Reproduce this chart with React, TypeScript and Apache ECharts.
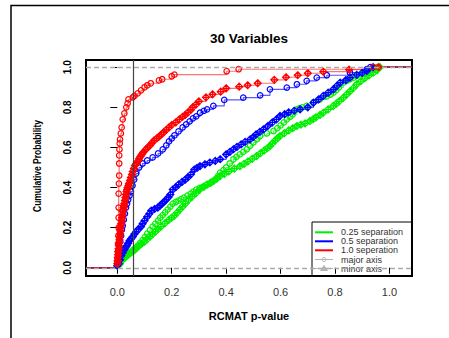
import React, { useEffect, useRef } from "react";
import * as echarts from "echarts";

// Axis ticks and limits
const xTicks = [0, 0.2, 0.4, 0.6, 0.8, 1.0];
const yTicks = [0, 0.2, 0.4, 0.6, 0.8, 1.0];
const xMin = -0.115;
const xMax = 1.083;
const yMin = -0.041;
const yMax = 1.036;
const cutoff = 0.058;

// 1.0 separation – major axis (circles)
const redMajorP = [0.000, 0.001, 0.002, 0.003, 0.004, 0.005, 0.005, 0.005, 0.005, 0.006, 0.007, 0.007, 0.007, 0.008, 0.009, 0.010, 0.013, 0.016, 0.020, 0.026, 0.033, 0.038, 0.041, 0.057, 0.063, 0.075, 0.087, 0.100, 0.110, 0.123, 0.153, 0.165, 0.200, 0.210, 0.402, 0.446, 0.940];
const redMajorF = [0.02, 0.05, 0.08, 0.12, 0.16, 0.20, 0.25, 0.30, 0.37, 0.42, 0.46, 0.52, 0.56, 0.59, 0.62, 0.64, 0.67, 0.70, 0.74, 0.77, 0.80, 0.82, 0.84, 0.85, 0.857, 0.87, 0.885, 0.90, 0.91, 0.92, 0.934, 0.94, 0.955, 0.963, 0.98, 0.99, 1.0];

// 1.0 separation – minor axis (diamond-plus)
const redMinorP = [0.000, 0.001, 0.002, 0.003, 0.004, 0.005, 0.006, 0.007, 0.008, 0.009, 0.010, 0.011, 0.012, 0.013, 0.014, 0.016, 0.017, 0.019, 0.020, 0.022, 0.023, 0.025, 0.026, 0.028, 0.030, 0.032, 0.034, 0.036, 0.038, 0.041, 0.043, 0.047, 0.050, 0.054, 0.057, 0.061, 0.065, 0.070, 0.075, 0.080, 0.085, 0.090, 0.095, 0.105, 0.112, 0.120, 0.128, 0.135, 0.145, 0.154, 0.162, 0.170, 0.180, 0.190, 0.200, 0.215, 0.228, 0.240, 0.250, 0.260, 0.270, 0.277, 0.290, 0.300, 0.326, 0.350, 0.380, 0.400, 0.448, 0.479, 0.516, 0.577, 0.620, 0.663, 0.700, 0.757, 0.852, 0.960];
const redMinorF = [0.02, 0.035, 0.05, 0.065, 0.08, 0.095, 0.11, 0.125, 0.14, 0.155, 0.17, 0.185, 0.20, 0.21, 0.22, 0.235, 0.25, 0.265, 0.28, 0.29, 0.30, 0.31, 0.32, 0.335, 0.35, 0.365, 0.38, 0.39, 0.40, 0.41, 0.42, 0.435, 0.45, 0.465, 0.48, 0.495, 0.51, 0.52, 0.53, 0.543, 0.555, 0.565, 0.575, 0.59, 0.60, 0.61, 0.623, 0.635, 0.645, 0.655, 0.665, 0.675, 0.688, 0.70, 0.712, 0.725, 0.74, 0.753, 0.762, 0.775, 0.787, 0.80, 0.815, 0.83, 0.85, 0.865, 0.878, 0.895, 0.903, 0.91, 0.92, 0.937, 0.95, 0.96, 0.97, 0.978, 0.988, 1.0];

// 0.5 separation – major axis
const blueMajorP = [0.000, 0.003, 0.006, 0.008, 0.011, 0.014, 0.017, 0.020, 0.024, 0.028, 0.032, 0.036, 0.040, 0.045, 0.050, 0.056, 0.062, 0.069, 0.080, 0.093, 0.110, 0.130, 0.150, 0.167, 0.180, 0.190, 0.200, 0.210, 0.225, 0.240, 0.253, 0.266, 0.278, 0.290, 0.304, 0.318, 0.330, 0.353, 0.393, 0.463, 0.525, 0.561, 0.623, 0.660, 0.696, 0.733, 0.770, 0.855, 0.917, 0.930];
const blueMajorF = [0.02, 0.04, 0.07, 0.10, 0.13, 0.16, 0.19, 0.21, 0.24, 0.27, 0.30, 0.32, 0.34, 0.36, 0.38, 0.41, 0.44, 0.47, 0.50, 0.52, 0.535, 0.55, 0.57, 0.59, 0.61, 0.63, 0.645, 0.66, 0.68, 0.70, 0.715, 0.73, 0.745, 0.755, 0.773, 0.782, 0.79, 0.807, 0.837, 0.848, 0.86, 0.89, 0.898, 0.915, 0.932, 0.948, 0.96, 0.973, 0.99, 1.0];

// 0.5 separation – minor axis
const blueMinorP = [0.000, 0.005, 0.010, 0.015, 0.020, 0.026, 0.030, 0.035, 0.040, 0.045, 0.051, 0.057, 0.063, 0.070, 0.078, 0.087, 0.093, 0.100, 0.110, 0.118, 0.125, 0.137, 0.149, 0.157, 0.165, 0.173, 0.180, 0.188, 0.195, 0.204, 0.215, 0.225, 0.238, 0.250, 0.260, 0.270, 0.283, 0.293, 0.304, 0.322, 0.340, 0.360, 0.378, 0.400, 0.414, 0.427, 0.440, 0.455, 0.470, 0.488, 0.500, 0.510, 0.524, 0.537, 0.553, 0.570, 0.585, 0.598, 0.615, 0.630, 0.650, 0.672, 0.700, 0.721, 0.740, 0.757, 0.775, 0.794, 0.807, 0.819, 0.840, 0.855, 0.880, 0.900, 0.917, 0.940];
const blueMinorF = [0.01, 0.02, 0.04, 0.06, 0.075, 0.09, 0.10, 0.11, 0.122, 0.135, 0.145, 0.155, 0.168, 0.18, 0.193, 0.205, 0.22, 0.235, 0.255, 0.27, 0.285, 0.293, 0.30, 0.31, 0.32, 0.33, 0.34, 0.352, 0.365, 0.39, 0.402, 0.415, 0.428, 0.44, 0.452, 0.465, 0.49, 0.498, 0.507, 0.516, 0.525, 0.533, 0.541, 0.565, 0.578, 0.591, 0.603, 0.615, 0.628, 0.64, 0.652, 0.665, 0.678, 0.69, 0.707, 0.725, 0.74, 0.757, 0.766, 0.775, 0.783, 0.79, 0.80, 0.823, 0.84, 0.857, 0.873, 0.89, 0.907, 0.923, 0.936, 0.948, 0.962, 0.972, 0.982, 1.0];

// 0.25 separation – major axis
const greenMajorP = [0.000, 0.008, 0.015, 0.025, 0.035, 0.045, 0.057, 0.066, 0.075, 0.084, 0.093, 0.102, 0.110, 0.120, 0.130, 0.140, 0.150, 0.158, 0.167, 0.176, 0.185, 0.195, 0.204, 0.215, 0.225, 0.235, 0.245, 0.258, 0.270, 0.280, 0.290, 0.303, 0.315, 0.328, 0.340, 0.350, 0.360, 0.370, 0.378, 0.390, 0.400, 0.413, 0.427, 0.438, 0.450, 0.463, 0.476, 0.488, 0.500, 0.513, 0.525, 0.550, 0.574, 0.588, 0.600, 0.612, 0.623, 0.635, 0.645, 0.660, 0.670, 0.680, 0.696, 0.720, 0.745, 0.770, 0.784, 0.794, 0.805, 0.815, 0.831, 0.843, 0.855, 0.868, 0.880, 0.900, 0.920, 0.940, 0.954];
const greenMajorF = [0.01, 0.02, 0.035, 0.05, 0.06, 0.075, 0.088, 0.098, 0.11, 0.124, 0.138, 0.154, 0.17, 0.188, 0.205, 0.22, 0.235, 0.25, 0.263, 0.276, 0.29, 0.305, 0.32, 0.328, 0.335, 0.342, 0.35, 0.36, 0.37, 0.38, 0.39, 0.398, 0.405, 0.413, 0.42, 0.43, 0.44, 0.457, 0.474, 0.487, 0.50, 0.52, 0.541, 0.553, 0.565, 0.578, 0.591, 0.608, 0.625, 0.641, 0.657, 0.67, 0.682, 0.696, 0.71, 0.725, 0.74, 0.753, 0.765, 0.79, 0.796, 0.80, 0.807, 0.825, 0.84, 0.855, 0.864, 0.873, 0.886, 0.90, 0.923, 0.932, 0.94, 0.948, 0.957, 0.966, 0.975, 0.988, 1.0];

// 0.25 separation – minor axis
const greenMinorP = [0.000, 0.010, 0.020, 0.028, 0.035, 0.043, 0.050, 0.058, 0.065, 0.072, 0.080, 0.090, 0.100, 0.110, 0.120, 0.130, 0.140, 0.150, 0.160, 0.175, 0.190, 0.200, 0.210, 0.220, 0.230, 0.240, 0.250, 0.262, 0.275, 0.290, 0.304, 0.318, 0.330, 0.343, 0.355, 0.367, 0.378, 0.394, 0.410, 0.430, 0.451, 0.466, 0.480, 0.496, 0.512, 0.526, 0.540, 0.551, 0.561, 0.570, 0.580, 0.589, 0.598, 0.614, 0.630, 0.645, 0.660, 0.675, 0.690, 0.708, 0.720, 0.730, 0.745, 0.757, 0.775, 0.794, 0.805, 0.815, 0.831, 0.843, 0.855, 0.868, 0.880, 0.895, 0.910, 0.925, 0.941, 0.955, 0.965];
const greenMinorF = [0.01, 0.02, 0.04, 0.05, 0.06, 0.068, 0.075, 0.083, 0.09, 0.10, 0.11, 0.12, 0.13, 0.143, 0.155, 0.168, 0.18, 0.193, 0.205, 0.222, 0.24, 0.25, 0.26, 0.275, 0.29, 0.305, 0.32, 0.338, 0.355, 0.373, 0.391, 0.403, 0.415, 0.425, 0.435, 0.446, 0.457, 0.468, 0.48, 0.494, 0.507, 0.518, 0.53, 0.543, 0.557, 0.571, 0.585, 0.596, 0.607, 0.621, 0.635, 0.646, 0.657, 0.671, 0.685, 0.696, 0.707, 0.714, 0.72, 0.732, 0.741, 0.75, 0.762, 0.773, 0.79, 0.807, 0.818, 0.83, 0.848, 0.864, 0.88, 0.897, 0.915, 0.93, 0.945, 0.959, 0.973, 0.986, 1.0];

const legendLabels = ["0.25 separation", "0.5 separation", "1.0 seperation", "major axis", "minor axis"];

const RED = "#ff0000";
const BLUE = "#0000ff";
const GREEN = "#00f000";
const GREY = "#b4b4b4";
const FONT = "Liberation Sans, Arial, sans-serif";

const MINOR_SYMBOL = "path://M5,0 L10,5 L5,10 L0,5 Z M0,5 L10,5 M5,0 L5,10";

type Def = { name: string; p: number[]; f: number[]; color: string; lineColor: string; minor: boolean };

const defs: Def[] = [
  { name: "green major", p: greenMajorP, f: greenMajorF, color: GREEN, lineColor: "rgba(0,230,0,0.6)", minor: false },
  { name: "green minor", p: greenMinorP, f: greenMinorF, color: GREEN, lineColor: "rgba(0,230,0,0.6)", minor: true },
  { name: "blue major", p: blueMajorP, f: blueMajorF, color: BLUE, lineColor: "rgba(0,0,255,0.65)", minor: false },
  { name: "blue minor", p: blueMinorP, f: blueMinorF, color: BLUE, lineColor: "rgba(0,0,255,0.65)", minor: true },
  { name: "red minor", p: redMinorP, f: redMinorF, color: RED, lineColor: "rgba(255,0,0,0.55)", minor: true },
  { name: "red major", p: redMajorP, f: redMajorF, color: RED, lineColor: "rgba(255,0,0,0.55)", minor: false },
];

function buildSeries(): any[] {
  const out: any[] = defs.map((d) => {
    const data: any[] = [{ value: [xMin, 0], symbol: "none" }];
    d.p.forEach((x, i) => data.push({ value: [x, d.f[i]] }));
    data.push({ value: [xMax, 1], symbol: "none" });
    return {
      name: d.name,
      type: "line",
      step: "end",
      data,
      symbol: d.minor ? MINOR_SYMBOL : "circle",
      symbolSize: d.minor ? 7 : 5.5,
      itemStyle: { color: "rgba(0,0,0,0)", borderColor: d.color, borderWidth: 1.2 },
      lineStyle: { color: d.lineColor, width: 1.2 },
      clip: true,
      z: 3,
    };
  });
  out.unshift({
    name: "ref",
    type: "line",
    data: [],
    markLine: {
      silent: true,
      symbol: "none",
      label: { show: false },
      data: [
        { yAxis: 0, lineStyle: { color: "#aaaaaa", type: [5, 3], width: 1.3 } },
        { yAxis: 1, lineStyle: { color: "#aaaaaa", type: [5, 3], width: 1.3 } },
        { xAxis: cutoff, lineStyle: { color: "#444444", type: "solid", width: 1.2 } },
      ],
    },
    z: 2,
  });
  return out;
}

function legendGraphic(): any[] {
  const colors = [GREEN, BLUE, RED, GREY, GREY];
  const x0 = 312, y0 = 222, w = 100, h = 54;
  const rowY = [232.3, 241.3, 250.3, 259.5, 268.5];
  const children: any[] = [
    { type: "rect", shape: { x: x0, y: y0, width: w, height: h }, style: { fill: "rgba(0,0,0,0)", stroke: "#000", lineWidth: 1 } },
  ];
  legendLabels.forEach((lab, i) => {
    children.push({
      type: "line",
      shape: { x1: 315, y1: rowY[i], x2: 333, y2: rowY[i] },
      style: { stroke: colors[i], lineWidth: i < 3 ? 2 : 1 },
    });
    if (i === 3) {
      children.push({ type: "circle", shape: { cx: 324, cy: rowY[i], r: 2 }, style: { fill: "rgba(0,0,0,0)", stroke: GREY, lineWidth: 1 } });
    }
    if (i === 4) {
      children.push({
        type: "polygon",
        shape: { points: [[324, rowY[i] - 3], [327.5, rowY[i] + 2], [320.5, rowY[i] + 2]] },
        style: { fill: GREY, stroke: GREY },
      });
    }
    children.push({
      type: "text",
      x: 341,
      y: rowY[i],
      style: { text: lab, fontSize: 9, fontFamily: FONT, fill: "#333", verticalAlign: "middle", align: "left" },
    });
  });
  return children;
}

export default function App() {
  const ref = useRef<HTMLDivElement>(null);
  useEffect(() => {
    if (!ref.current) return;
    const chart = echarts.init(ref.current, undefined, { renderer: "svg" });
    chart.setOption({
      animation: false,
      backgroundColor: "#ffffff",
      grid: { left: 86, top: 60, width: 326, height: 216, show: true, borderColor: "#000", borderWidth: 2, backgroundColor: "rgba(0,0,0,0)" },
      xAxis: {
        type: "value",
        min: xMin,
        max: xMax,
        axisLine: { show: false },
        splitLine: { show: false },
        axisTick: { show: true, customValues: xTicks, length: 6, lineStyle: { color: "#000", width: 1 } },
        axisLabel: { customValues: xTicks, formatter: (v: number) => v.toFixed(1), fontSize: 11, color: "#333", margin: 10, fontFamily: FONT },
      },
      yAxis: {
        type: "value",
        min: yMin,
        max: yMax,
        axisLine: { show: false },
        splitLine: { show: false },
        axisTick: { show: true, customValues: yTicks, length: 7, lineStyle: { color: "#000", width: 1 } },
        axisLabel: { customValues: yTicks, formatter: (v: number) => v.toFixed(1), rotate: 90, fontSize: 10, fontWeight: "bold", color: "#000", margin: 14, fontFamily: FONT },
      },
      series: buildSeries(),
      graphic: [
        { type: "rect", shape: { x: 11, y: 5.5, width: 450, height: 345 }, style: { fill: "rgba(0,0,0,0)", stroke: "#000", lineWidth: 1.5 }, z: 10 },
        { type: "text", x: 249, y: 38, style: { text: "30 Variables", fontSize: 13.5, fontWeight: "bold", fontFamily: FONT, fill: "#000", align: "center", verticalAlign: "middle" }, z: 10 },
        { type: "text", x: 249, y: 316, style: { text: "RCMAT p-value", fontSize: 11, fontWeight: "bold", fontFamily: FONT, fill: "#000", align: "center", verticalAlign: "middle" }, z: 10 },
        { type: "text", x: 37, y: 166, rotation: Math.PI / 2, scaleY: 1.25, style: { text: "Cumulative Probability", fontSize: 8.5, fontWeight: "bold", fontFamily: FONT, fill: "#000", align: "center", verticalAlign: "middle" }, z: 10 },
        { type: "group", children: legendGraphic(), z: 10 },
      ],
    });
    return () => chart.dispose();
  }, []);
  return <div ref={ref} style={{ position: "absolute", left: 0, top: 0, width: 449, height: 338 }} />;
}
